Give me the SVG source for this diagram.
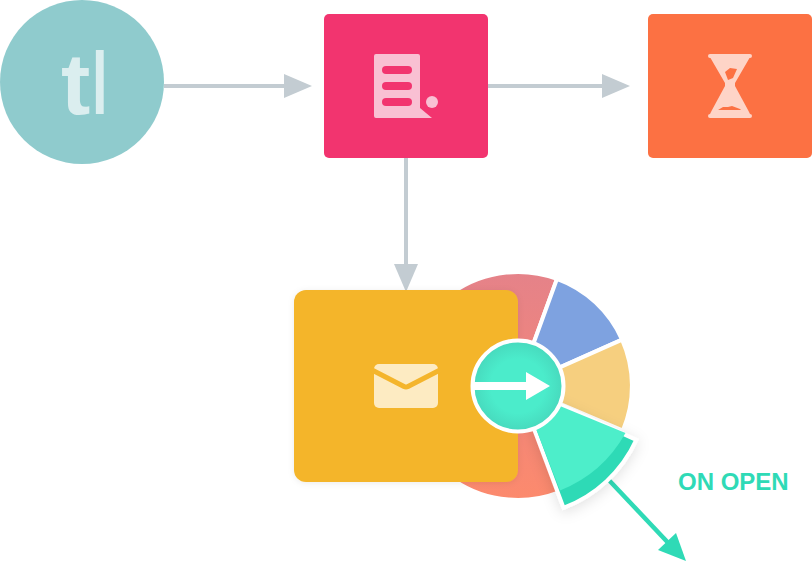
<svg xmlns="http://www.w3.org/2000/svg" width="812" height="562" viewBox="0 0 812 562">
<defs>
<style>
.wire{stroke:#c3ccd2;stroke-width:4;fill:none}
.head{fill:#c3ccd2}
.sector{stroke:#fff;stroke-width:4;stroke-linejoin:miter}
</style>
<linearGradient id="redGrad" x1="0" y1="0" x2="0" y2="1"><stop offset="0" stop-color="#e58289"/><stop offset="1" stop-color="#fc8a6d"/></linearGradient>
<radialGradient id="hubGrad" cx="0.5" cy="0.5" r="0.5"><stop offset="0.6" stop-color="#4beccb"/><stop offset="1" stop-color="#47d9bd"/></radialGradient>
<filter id="softShadow" x="-30%" y="-30%" width="160%" height="160%"><feDropShadow dx="0" dy="3" stdDeviation="7" flood-color="#000" flood-opacity="0.12"/></filter>
<filter id="cardShadow" x="-10%" y="-10%" width="120%" height="120%"><feDropShadow dx="0" dy="1" stdDeviation="3" flood-color="#000" flood-opacity="0.08"/></filter>
</defs>
<rect width="812" height="562" fill="#fff"/>

<g id="connectors">
<path class="wire" d="M164 86H286"/><path class="head" d="M284 74L312 86L284 98Z"/>
<path class="wire" d="M488 86H604"/><path class="head" d="M602 74L630 86L602 98Z"/>
<path class="wire" d="M406 158V266"/><path class="head" d="M394 264H418L406 292Z"/>
<path d="M606 477L674 549" stroke="#2fdab6" stroke-width="4.500" fill="none"/><path d="M676 533L686 561L658 550Z" fill="#2fdab6"/>
</g>

<g id="node-start">
<circle cx="82" cy="82" r="82" fill="#8fcbcd"/>
<text y="114" font-family="Liberation Sans, sans-serif" font-size="88" fill="#dbeeef"><tspan x="61" font-weight="700">t</tspan><tspan x="89.500" font-family="Lato, sans-serif" font-size="87" font-weight="400">l</tspan></text>
</g>

<g id="node-doc">
<rect x="324" y="14" width="164" height="144" rx="5" fill="#f2346f"/>
<path d="M376 54H418a2 2 0 0 1 2 2V108L432 118H376a2 2 0 0 1-2-2V56a2 2 0 0 1 2-2Z" fill="#f9c0d3"/>
<rect x="382" y="66" width="30" height="8" rx="4" fill="#f2346f"/>
<rect x="382" y="82" width="30" height="8" rx="4" fill="#f2346f"/>
<rect x="382" y="98" width="30" height="8" rx="4" fill="#f2346f"/>
<circle cx="432" cy="102" r="6" fill="#f9c0d3"/>
</g>

<g id="node-wait">
<rect x="648" y="14" width="164" height="144" rx="5" fill="#fc7143"/>
<path fill-rule="evenodd" fill="#fed4c7" d="M710 54H750a2 2 0 0 1 0 4H749.500L735 83V86L748 110L750 114a2 2 0 0 1 0 4H710a2 2 0 0 1 0-4L712 110L725 86V83L710.500 58H710a2 2 0 0 1 0-4ZM725 72L730 68L737 69L733 78L728 80ZM718 110L723 107L728 107L732 106L740 109L741 110Z"/>
</g>

<g id="node-pie">
<path class="sector" fill="url(#redGrad)" d="M518 386L559 492.400A114 114 0 1 1 557 278.900Z"/>
<path class="sector" fill="#7ea2e0" d="M518 386L557 278.900A114 114 0 0 1 622.100 339.600Z"/>
<path class="sector" fill="#f6cf7f" d="M518 386L622.100 339.600A114 114 0 0 1 622.900 430.500Z"/>
</g>

<g id="node-email">
<rect x="294" y="290" width="224" height="192" rx="12" fill="#f4b52c" filter="url(#cardShadow)"/>
<rect x="374" y="364" width="64" height="44" rx="5" fill="#fdebc2"/>
<path d="M372 370L404 386.500Q406 387.500 408 386.500L440 370" stroke="#f4b52c" stroke-width="5" fill="none"/>
</g>

<g id="node-open-sector">
<path d="M518 386L636.300 439.900A130 130 0 0 1 563.500 507.800Z" fill="#2fdab6" stroke="#fff" stroke-width="4" filter="url(#softShadow)"/>
<path d="M521 390L625.500 433A130 130 0 0 1 560 490.500Z" fill="#4deeca"/>
</g>

<g id="node-hub">
<circle cx="518" cy="386" r="45.500" fill="url(#hubGrad)" stroke="#fff" stroke-width="4"/>
<path d="M472 382H526V372L550 386L526 400V390H472Z" fill="#fff"/>
</g>

<text id="label-on-open" x="678" y="490" font-family="Liberation Sans, sans-serif" font-size="24" font-weight="700" fill="#2fdab6">ON OPEN</text>
</svg>
